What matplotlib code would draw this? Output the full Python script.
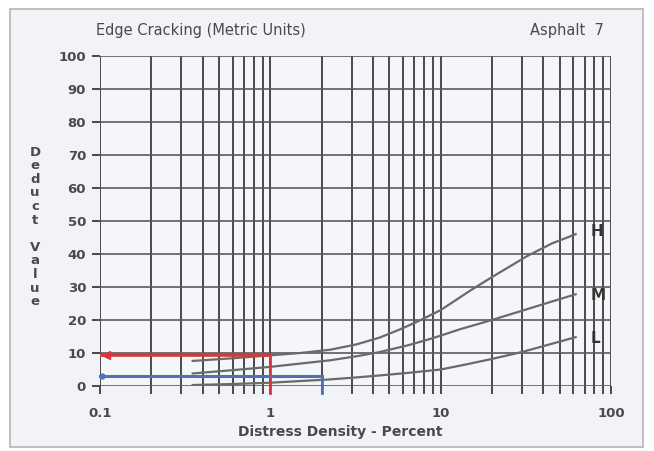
import matplotlib
matplotlib.use("Agg")
import matplotlib.pyplot as plt
import numpy as np

# Deduct value curves for edge cracking (metric units)
density_low = [0.35, 0.6, 1.0, 1.5, 2.25, 3.2, 4.4, 6.5, 10, 14, 20, 30, 45, 62]
deduct_low = [0.3, 0.6, 1.0, 1.5, 2.0, 2.6, 3.2, 4.0, 5.0, 6.5, 8.2, 10.3, 12.8, 14.8]

density_med = [0.35, 0.6, 1.0, 1.5, 2.25, 3.2, 4.4, 6.5, 9, 13, 20, 30, 45, 62]
deduct_med = [3.8, 4.8, 5.8, 6.8, 7.8, 9.0, 10.3, 12.4, 14.5, 17.2, 20.0, 22.8, 25.6, 27.8]

density_high = [0.35, 0.6, 1.0, 1.5, 2.25, 3.2, 4.4, 5.8, 7.5, 10, 15, 20, 26, 32, 45, 62]
deduct_high = [7.6, 8.4, 9.3, 10.0, 11.0, 12.6, 14.7, 17.2, 19.8, 23.0, 29.0, 33.0, 36.5, 39.3, 43.2, 46.0]

curve_labels = ["L", "M", "H"]
label_x = 76
label_y = [14.5, 27.3, 46.7]

# worked example read-offs
red_density, red_deduct = 1.0, 9.3
blue_density, blue_deduct = 2.0, 3.0

x_ticks = [0.1, 1, 10, 100]
x_tick_labels = ["0.1", "1", "10", "100"]
y_ticks = list(range(0, 101, 10))

title_left = "Edge Cracking (Metric Units)"
title_right = "Asphalt  7"
x_label = "Distress Density - Percent"
y_label = "Deduct Value"

W, H = 654, 451
fig = plt.figure(figsize=(W / 100, H / 100), dpi=100)
fig.patch.set_facecolor("white")

# scanned sheet panel with a thin grey border
bg = fig.add_axes([0, 0, 1, 1], zorder=-5)
bg.set_xlim(0, W)
bg.set_ylim(H, 0)
bg.axis("off")
bg.add_patch(plt.Rectangle((10, 9), 633, 438, facecolor="#f1f3f6", edgecolor="#b5b5b5",
                           linewidth=1.2))

ax = fig.add_axes([100 / W, 1 - 386 / H, 511 / W, 330 / H])
ax.set_facecolor("#f4f6f9")
ax.set_xscale("log")
ax.set_xlim(0.1, 100)
ax.set_ylim(0, 100)

grid_col = "#3c3c3c"
ax.grid(True, which="major", axis="x", color=grid_col, linewidth=1.3)
ax.grid(True, which="minor", axis="x", color=grid_col, linewidth=1.3)
ax.grid(True, which="major", axis="y", color="#5a5a5a", linewidth=1.2)
for s in ax.spines.values():
    s.set_visible(False)

ax.set_xticks(x_ticks)
ax.set_xticklabels(x_tick_labels)
ax.set_yticks(y_ticks)
ax.xaxis.set_minor_locator(matplotlib.ticker.LogLocator(base=10, subs=np.arange(2, 10)))
ax.xaxis.set_minor_formatter(matplotlib.ticker.NullFormatter())
ax.tick_params(axis="both", which="both", direction="out", length=6, width=1.3,
               color=grid_col, labelcolor="#4a4a4a", labelsize=9.5)
ax.tick_params(axis="x", pad=9)
ax.tick_params(axis="y", pad=4)
for lab in ax.get_xticklabels() + ax.get_yticklabels():
    lab.set_fontweight("bold")

curve_col = "#6a6a6a"
ax.plot(density_low, deduct_low, color=curve_col, lw=1.6, zorder=3)
ax.plot(density_med, deduct_med, color=curve_col, lw=1.6, zorder=3)
ax.plot(density_high, deduct_high, color=curve_col, lw=1.6, zorder=3)
for txt, yv in zip(curve_labels, label_y):
    ax.text(label_x, yv, txt, fontsize=11, fontweight="bold", color="#333333",
            ha="left", va="center", zorder=4)

# red read-off path
red = "#d8353f"
ax.plot([0.1, red_density], [red_deduct, red_deduct], color=red, lw=2.6, zorder=5,
        solid_capstyle="butt", clip_on=False)
ax.plot([red_density, red_density], [red_deduct, -2], color=red, lw=2.0, zorder=5,
        clip_on=False)
ax.plot([0.108], [red_deduct], marker="<", color=red, markersize=6, zorder=6, clip_on=False)

# blue read-off path
blue = "#4c72b8"
ax.plot([0.1, blue_density], [blue_deduct, blue_deduct], color=blue, lw=2.2, zorder=5,
        clip_on=False)
ax.plot([blue_density, blue_density], [blue_deduct, -2], color=blue, lw=2.0, zorder=5,
        clip_on=False)
ax.plot([0.103], [blue_deduct], marker="o", color=blue, markersize=3.5, zorder=6, clip_on=False)

fig.text(96 / W, 1 - 31 / H, title_left, fontsize=10.5, color="#4a4a4a", ha="left", va="center")
fig.text(530 / W, 1 - 31 / H, title_right, fontsize=10.5, color="#4a4a4a", ha="left", va="center")
fig.text(340 / W, 1 - 432 / H, x_label, fontsize=10, fontweight="bold", color="#4a4a4a",
         ha="center", va="center")

# vertical axis title written with stacked upright letters
letters = list(y_label)
y0, step = 152, 13.6
for i, ch in enumerate(letters):
    if ch == " ":
        continue
    fig.text(35 / W, 1 - (y0 + i * step) / H, ch, fontsize=9.5, fontweight="bold",
             color="#4a4a4a", ha="center", va="center")

fig.savefig("out.png", dpi=100, facecolor="white")
